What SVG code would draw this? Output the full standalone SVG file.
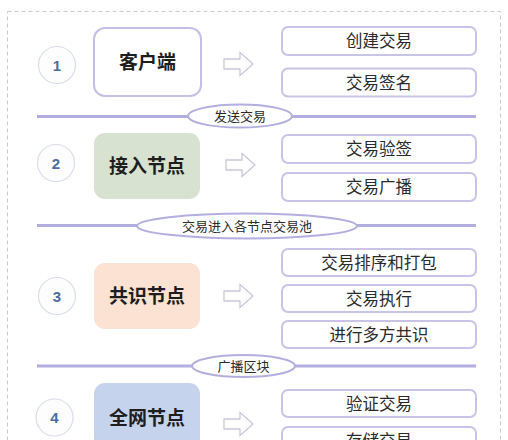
<svg xmlns="http://www.w3.org/2000/svg" width="508" height="440" viewBox="0 0 508 440">
<style>
.frame{fill:none;stroke:#c9c9d2;stroke-width:1;stroke-dasharray:4 3}
.num{fill:#fdfdfe;stroke:#d9dde8;stroke-width:1.2}
.numt{font-family:"Liberation Sans",Arial,sans-serif;font-weight:bold;font-size:15px;fill:#4b6d9c;text-anchor:middle}
.main{stroke:none}
.maint{font-family:"Noto Sans CJK SC",sans-serif;font-weight:bold;font-size:19px;fill:#1e1e1e;text-anchor:middle}
.item{fill:#fff;stroke:#c8c4e6;stroke-width:2}
.itemt{font-family:"Noto Sans CJK SC",sans-serif;font-size:16.5px;fill:#2a2a2a;text-anchor:middle}
.arrow{fill:#fff;stroke:#c9c9d6;stroke-width:1.3;stroke-linejoin:miter}
.sep{stroke:#b3aee0;stroke-width:3}
.lab{fill:#fff;stroke:#b3aee0;stroke-width:2}
.labt{font-family:"Noto Sans CJK SC",sans-serif;font-size:13px;fill:#2a2a2a;text-anchor:middle}
</style>
<defs>
<path id="arr" d="M0,-5 H16 V-11.5 L29,0 L16,11.5 V5 H0 Z"/>
</defs>
<rect width="508" height="440" fill="#fff"/>
<rect class="frame" x="7.5" y="11.5" width="493" height="460"/>

<g id="connectors">
<line class="sep" x1="37" y1="116.5" x2="476" y2="116.5"/>
<line class="sep" x1="37" y1="225.5" x2="476" y2="225.5"/>
<line class="sep" x1="37" y1="366" x2="476" y2="366"/>
<use href="#arr" class="arrow" x="224" y="64"/>
<use href="#arr" class="arrow" x="226" y="165"/>
<use href="#arr" class="arrow" x="224" y="296"/>
<use href="#arr" class="arrow" x="224" y="424"/>
</g>

<g id="label-send">
<ellipse class="lab" cx="240" cy="116" rx="52" ry="11.5"/>
<text class="labt" x="240" y="120.5">发送交易</text>
</g>
<g id="label-pool">
<ellipse class="lab" cx="247" cy="226" rx="110" ry="12.5"/>
<text class="labt" x="247" y="230.5">交易进入各节点交易池</text>
</g>
<g id="label-block">
<ellipse class="lab" cx="243.5" cy="366" rx="51.5" ry="11"/>
<text class="labt" x="243.5" y="370.5">广播区块</text>
</g>

<g id="step1">
<circle class="num" cx="57" cy="65" r="18.5"/>
<text class="numt" x="57" y="70.5">1</text>
</g>
<g id="client">
<rect x="94" y="28" width="107" height="68" rx="11" fill="#fff" stroke="#c4bfe6" stroke-width="2"/>
<text class="maint" x="147.5" y="69">客户端</text>
</g>
<g id="create-tx"><rect class="item" x="282" y="27" width="194" height="28" rx="6"/><text class="itemt" x="379" y="47">创建交易</text></g>
<g id="sign-tx"><rect class="item" x="282" y="68.5" width="194" height="28" rx="6"/><text class="itemt" x="379" y="88.5">交易签名</text></g>

<g id="step2">
<circle class="num" cx="56" cy="163" r="18.5"/>
<text class="numt" x="56" y="168.5">2</text>
</g>
<g id="access-node">
<rect x="94" y="133" width="106" height="66" rx="11" fill="#d7e3d0"/>
<text class="maint" x="147" y="172.5">接入节点</text>
</g>
<g id="verify-sig"><rect class="item" x="282" y="135" width="194" height="28" rx="6"/><text class="itemt" x="379" y="155">交易验签</text></g>
<g id="broadcast-tx"><rect class="item" x="282" y="173" width="194" height="28" rx="6"/><text class="itemt" x="379" y="193">交易广播</text></g>

<g id="step3">
<circle class="num" cx="57" cy="296" r="18.5"/>
<text class="numt" x="57" y="301.5">3</text>
</g>
<g id="consensus-node">
<rect x="94" y="263" width="106" height="66" rx="11" fill="#fce2d3"/>
<text class="maint" x="147" y="302.5">共识节点</text>
</g>
<g id="order-pack"><rect class="item" x="282" y="249" width="194" height="27" rx="6"/><text class="itemt" x="379" y="268.5">交易排序和打包</text></g>
<g id="execute"><rect class="item" x="282" y="285" width="194" height="27" rx="6"/><text class="itemt" x="379" y="304.5">交易执行</text></g>
<g id="multi-consensus"><rect class="item" x="282" y="321" width="194" height="27" rx="6"/><text class="itemt" x="379" y="340.5">进行多方共识</text></g>

<g id="step4">
<circle class="num" cx="54.5" cy="417.5" r="18.5"/>
<text class="numt" x="54.5" y="423">4</text>
</g>
<g id="all-nodes">
<rect x="94" y="383" width="106" height="66" rx="11" fill="#c6d3ec"/>
<text class="maint" x="147" y="424.5">全网节点</text>
</g>
<g id="verify-tx"><rect class="item" x="282" y="390" width="194" height="27" rx="6"/><text class="itemt" x="379" y="409.5">验证交易</text></g>
<g id="store-tx"><rect class="item" x="282" y="427" width="194" height="27" rx="6"/><text class="itemt" x="379" y="446.5">存储交易</text></g>
</svg>
